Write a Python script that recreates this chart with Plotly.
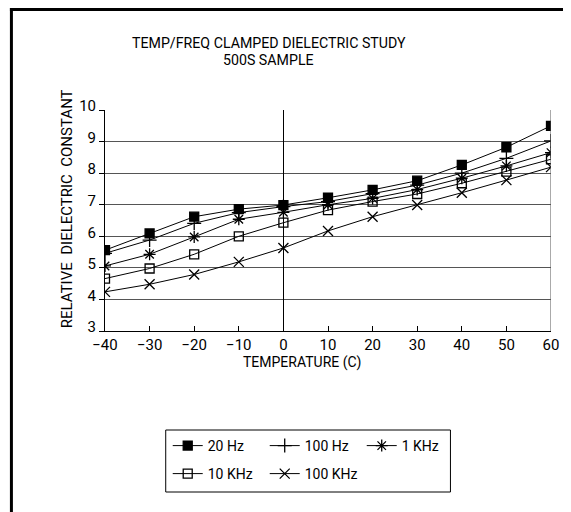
import plotly.graph_objects as go

temps = [-40, -30, -20, -10, 0, 10, 20, 30, 40, 50, 60]
hz20 = [5.56, 6.09, 6.62, 6.86, 6.99, 7.22, 7.47, 7.76, 8.26, 8.82, 9.50]
hz100 = [5.46, 5.88, 6.41, 6.75, 6.94, 7.10, 7.35, 7.62, 8.00, 8.47, 9.02]
khz1 = [5.06, 5.43, 5.98, 6.54, 6.76, 7.00, 7.20, 7.48, 7.84, 8.23, 8.65]
khz10 = [4.66, 4.98, 5.43, 6.00, 6.43, 6.83, 7.10, 7.34, 7.68, 8.05, 8.44]
khz100 = [4.24, 4.48, 4.79, 5.19, 5.63, 6.17, 6.62, 6.99, 7.38, 7.78, 8.19]
series_names = ["20 Hz", "100 Hz", "1 KHz", "10 KHz", "100 KHz"]
series_values = [hz20, hz100, khz1, khz10, khz100]
x_ticks = [-40, -30, -20, -10, 0, 10, 20, 30, 40, 50, 60]
y_ticks = [3, 4, 5, 6, 7, 8, 9, 10]
title_line1 = "TEMP/FREQ CLAMPED DIELECTRIC STUDY"
title_line2 = "500S SAMPLE"
x_title = "TEMPERATURE (C)"
y_title = "RELATIVE&nbsp; DIELECTRIC&nbsp; CONSTANT"

symbols = ["square", "cross-thin-open", "asterisk-open", "square-open", "x-thin-open"]
sizes = [9, 10, 10, 9, 10]
legends = ["legend", "legend", "legend", "legend2", "legend2"]

FONT = "Roboto, Liberation Sans, sans-serif"

# page offset (browser body margin) compensation: reference pixel -> figure pixel
OFF = 8
W, H = 571 - OFF, 512 - OFF
PL, PR, PT, PB = 105, 553, 110, 331  # plot area in reference pixels
L, T = PL - OFF, PT - OFF
R, B = W - (PR - OFF), H - (PB - OFF)
pw, ph = W - L - R, H - T - B


def px_x(p):
    return (p - OFF - L) / pw


def px_y(p):
    return (H - B - (p - OFF)) / ph


fig = go.Figure()
for name, vals, sym, sz, lg in zip(series_names, series_values, symbols, sizes, legends):
    fig.add_trace(go.Scatter(
        x=temps, y=vals, name=name, mode="lines+markers", legend=lg,
        line=dict(color="black", width=1),
        marker=dict(symbol=sym, size=sz, color="black",
                    line=dict(color="black", width=1.3)),
    ))

fig.update_layout(
    width=W, height=H,
    margin=dict(l=L, r=R, t=T, b=B),
    paper_bgcolor="white", plot_bgcolor="white",
    font=dict(family=FONT, color="black", size=15),
    xaxis=dict(range=[-40, 60], tickvals=x_ticks, ticks="inside", ticklen=5,
               tickcolor="black", showgrid=False, zeroline=True,
               zerolinecolor="black", zerolinewidth=1, showline=True,
               linecolor="black", linewidth=1, ticklabelstandoff=0,
               tickfont=dict(size=15)),
    yaxis=dict(range=[3, 10], tickvals=y_ticks, ticks="outside", ticklen=5,
               tickcolor="black", showgrid=True, gridcolor="#555555", gridwidth=1,
               zeroline=False, showline=True, linecolor="black", linewidth=1,
               ticklabelshift=-4, tickfont=dict(size=15)),
    legend=dict(orientation="h", x=px_x(160 + OFF), y=px_y(446), xanchor="left",
                yanchor="middle", bgcolor="rgba(0,0,0,0)", borderwidth=0,
                font=dict(size=14), entrywidth=52, entrywidthmode="pixels",
                tracegroupgap=0),
    legend2=dict(orientation="h", x=px_x(160 + OFF), y=px_y(474), xanchor="left",
                 yanchor="middle", bgcolor="rgba(0,0,0,0)", borderwidth=0,
                 font=dict(size=14), entrywidth=52, entrywidthmode="pixels",
                 tracegroupgap=0),
    showlegend=True,
)

# grey right border of the plot
fig.add_shape(type="line", xref="x", yref="paper", x0=60, x1=60, y0=0, y1=1,
              line=dict(color="#555555", width=1))
# legend box
fig.add_shape(type="rect", xref="paper", yref="paper",
              x0=px_x(166), x1=px_x(452), y0=px_y(492), y1=px_y(430),
              line=dict(color="black", width=1))
# outer page frame (left and top edges)
fig.add_shape(type="line", xref="paper", yref="paper",
              x0=px_x(11), x1=px_x(11), y0=px_y(8), y1=px_y(530),
              line=dict(color="black", width=3))
fig.add_shape(type="line", xref="paper", yref="paper",
              x0=px_x(9.5), x1=px_x(600), y0=px_y(9.5), y1=px_y(9.5),
              line=dict(color="black", width=3))

# title (two lines)
fig.add_annotation(text=title_line1, xref="paper", yref="paper",
                   x=px_x(269.5), y=px_y(43), xanchor="center", yanchor="middle",
                   showarrow=False, font=dict(size=14.2, family=FONT))
fig.add_annotation(text=title_line2, xref="paper", yref="paper",
                   x=px_x(269.5), y=px_y(60), xanchor="center", yanchor="middle",
                   showarrow=False, font=dict(size=14.2, family=FONT))

# x-axis title
fig.add_annotation(text=x_title, xref="paper", yref="paper",
                   x=px_x(303), y=px_y(362), xanchor="center", yanchor="middle",
                   showarrow=False, font=dict(size=14, family=FONT))

# y-axis title
fig.add_annotation(text=y_title, textangle=-90,
                   xref="paper", yref="paper", x=px_x(67), y=px_y(209),
                   xanchor="center", yanchor="middle", showarrow=False,
                   font=dict(size=15, family=FONT))

fig.write_html("out.html")
